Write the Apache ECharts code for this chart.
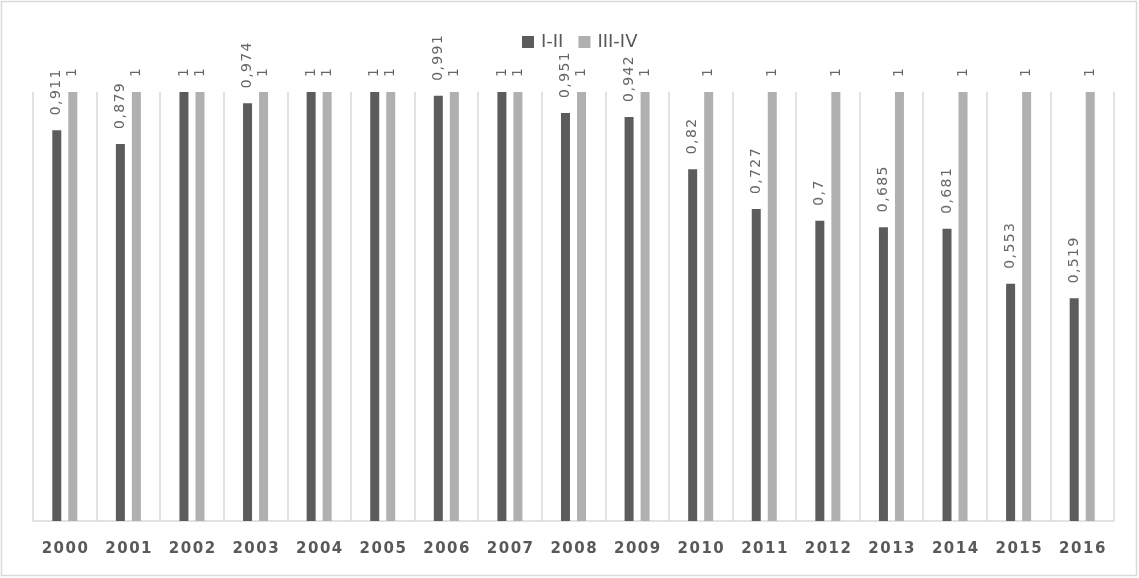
<!DOCTYPE html>
<html>
<head>
<meta charset="utf-8">
<script src="https://cdn.jsdelivr.net/npm/echarts@6/dist/echarts.min.js"></script>
<style>
  html, body { margin: 0; padding: 0; background: #fff; }
  #chart { width: 1139px; height: 578px; }
</style>
</head>
<body>
<div id="chart"></div>
<script>
const years = ['2000', '2001', '2002', '2003', '2004', '2005', '2006', '2007', '2008',
  '2009', '2010', '2011', '2012', '2013', '2014', '2015', '2016'];
const seriesNames = ['I-II', 'III-IV'];
const valuesI_II = [0.911, 0.879, 1, 0.974, 1, 1, 0.991, 1, 0.951, 0.942, 0.82, 0.727, 0.7, 0.685, 0.681, 0.553, 0.519];
const valuesIII_IV = [1, 1, 1, 1, 1, 1, 1, 1, 1, 1, 1, 1, 1, 1, 1, 1, 1];

// spread characters a bit, like the original wide-tracked font
const spaced = (s, sp) => String(s).split('').join(sp);

const chart = echarts.init(document.getElementById('chart'));

const valueLabel = {
  show: true,
  position: 'top',
  rotate: 90,
  align: 'left',
  verticalAlign: 'middle',
  distance: 15,
  color: '#666',
  fontFamily: 'DejaVu Sans',
  fontSize: 14,
  formatter: p => spaced(String(p.value).replace('.', ','), '\u200A')
};

chart.setOption({
  animation: false,
  graphic: [{
    type: 'rect',
    shape: { x: 1.5, y: 1.5, width: 1135, height: 574 },
    style: { fill: 'none', stroke: '#d9d9d9', lineWidth: 1.5 },
    silent: true
  }],
  legend: {
    data: seriesNames,
    top: 28,
    left: 517,
    itemWidth: 12,
    itemHeight: 12,
    itemGap: 15,
    icon: 'rect',
    textStyle: { color: '#595959', fontFamily: 'DejaVu Sans', fontSize: 18, padding: [0, 0, 0, 2] }
  },
  grid: { left: 33, right: 25, top: 92, bottom: 57, containLabel: false },
  xAxis: {
    type: 'category',
    data: years,
    axisLine: { lineStyle: { color: '#d9d9d9', width: 1.5 } },
    axisTick: { show: false },
    splitLine: { show: true, interval: 0, lineStyle: { color: '#d9d9d9', width: 1.5 } },
    axisLabel: {
      interval: 0,
      margin: 21,
      color: '#595959',
      fontFamily: 'DejaVu Sans',
      fontWeight: 'bold',
      fontSize: 15,
      formatter: v => spaced(v, '\u200A')
    }
  },
  yAxis: {
    type: 'value',
    min: 0,
    max: 1,
    show: false,
    splitLine: { show: false }
  },
  series: [
    {
      name: seriesNames[0],
      type: 'bar',
      data: valuesI_II,
      barWidth: 9,
      barGap: '78%',
      itemStyle: { color: '#5c5c5c' },
      label: valueLabel
    },
    {
      name: seriesNames[1],
      type: 'bar',
      data: valuesIII_IV,
      barWidth: 9,
      itemStyle: { color: '#b0b0b0' },
      label: valueLabel
    }
  ]
});
</script>
</body>
</html>
